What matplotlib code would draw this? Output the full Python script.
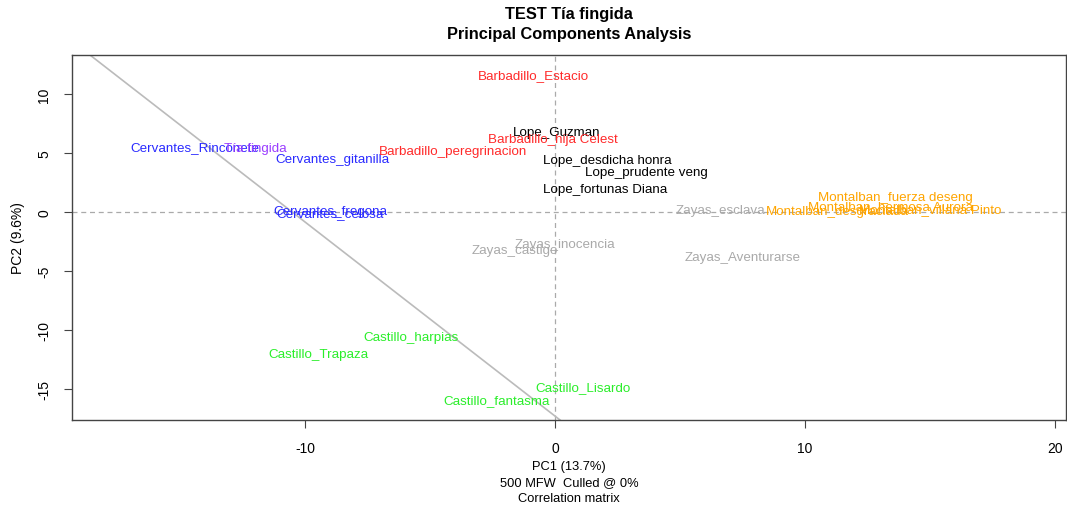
import numpy as np
import matplotlib
matplotlib.use("Agg")
import matplotlib.pyplot as plt

plt.rcParams['font.family'] = ['Liberation Sans', 'DejaVu Sans']

# sample labels and their PCA coordinates
labels = [
    "Cervantes_Rinconete", "Tía fingida", "Cervantes_gitanilla",
    "Barbadillo_peregrinacion", "Barbadillo_Estacio", "Lope_Guzman",
    "Barbadillo_hija Celest", "Lope_desdicha honra", "Lope_prudente veng",
    "Lope_fortunas Diana", "Zayas_esclava", "Montalban_fuerza deseng",
    "Montalban_desgraciada", "Montalban_hermosa Aurora", "Montalban_villana Pinto",
    "Cervantes_fregona", "Cervantes_celosa", "Zayas_inocencia", "Zayas_castigo",
    "Zayas_Aventurarse", "Castillo_harpias", "Castillo_Trapaza",
    "Castillo_Lisardo", "Castillo_fantasma",
]
pc1 = [-14.4, -12.0, -8.9, -4.1, -0.85, 0.05, -0.1, 2.1, 3.65, 2.0, 6.6,
       13.6, 11.3, 13.4, 15.0, -9.0, -9.0, 0.4, -1.6, 7.5, -5.75, -9.45,
       1.1, -2.35]
pc2 = [5.5, 5.4, 4.5, 5.2, 11.6, 6.8, 6.2, 4.4, 3.4, 1.95, 0.15, 1.25,
       0.05, 0.5, 0.25, 0.1, -0.1, -2.7, -3.2, -3.8, -10.6, -12.0,
       -14.8, -15.9]

# stylo palette, by author
author_colors = {
    "Cervantes": "#2a2aff", "Tía fingida": "#9a3dff", "Barbadillo": "#ff2a2a",
    "Lope": "black", "Zayas": "#a9a9a9", "Montalban": "#ffa500",
    "Castillo": "#2aee2a",
}

xticks = [-10, 0, 10, 20]
yticks = [-15, -10, -5, 0, 5, 10]

fig = plt.figure(figsize=(10.67, 5.10), dpi=100)
ax = fig.add_axes([0.0675, 0.1745, 0.9316, 0.7157])

for lab, x, y in zip(labels, pc1, pc2):
    author = lab.split("_")[0]
    ax.text(x, y, lab, color=author_colors[author], fontsize=9.6,
            ha="center", va="center")

# reference lines
ax.axhline(0, color="#aaaaaa", ls=(0, (4, 3)), lw=0.9, zorder=0)
ax.axvline(0, color="#aaaaaa", ls=(0, (4, 3)), lw=0.9, zorder=0)
ax.axline((0, -17.3), slope=-1.645, color="#bbbbbb", lw=1.2, zorder=0)

ax.set_xlim(-19.32, 20.44)
ax.set_ylim(-17.63, 13.3)
ax.set_xticks(xticks)
ax.set_yticks(yticks)
ax.set_xticklabels([str(t) for t in xticks], fontsize=10)
ax.set_yticklabels([str(t) for t in yticks], fontsize=10, rotation=90, va="center")
ax.tick_params(direction="out", length=6, width=0.8, color="#444444", pad=9)
for s in ax.spines.values():
    s.set_color("#444444")
    s.set_linewidth(1.0)

ax.set_xlabel("PC1 (13.7%)\n500 MFW  Culled @ 0%\nCorrelation matrix",
              fontsize=9.3, linespacing=1.4, labelpad=4)
ax.set_ylabel("PC2 (9.6%)", fontsize=10, labelpad=9)
ax.set_title("TEST Tía fingida\nPrincipal Components Analysis",
             fontsize=11.8, fontweight="bold", linespacing=1.45, pad=12)

fig.savefig("out.png", dpi=100)
